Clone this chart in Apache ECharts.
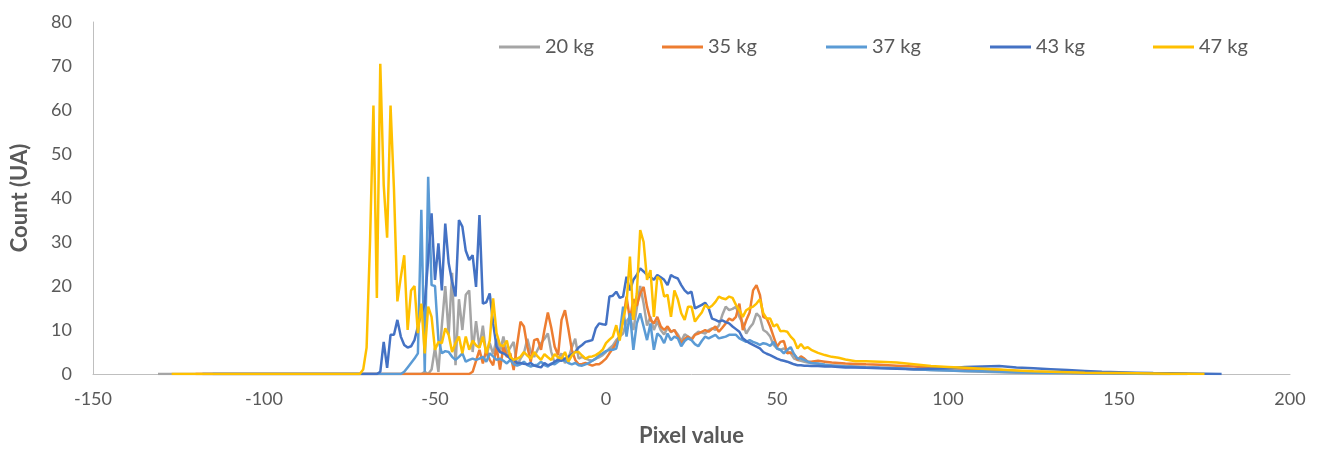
<!DOCTYPE html>
<html><head><meta charset="utf-8">
<script src="https://cdn.jsdelivr.net/npm/echarts@6/dist/echarts.min.js"></script>
<style>html,body{margin:0;padding:0;background:#fff;}#chart{width:1323px;height:455px;}</style>
</head><body><div id="chart"></div>
<script>
const seriesNames = ['20 kg', '35 kg', '37 kg', '43 kg', '47 kg'];
const seriesColors = ['#A5A5A5', '#ED7D31', '#5B9BD5', '#4472C4', '#FFC000'];
const startPixel = [-131, -120, -115, -118, -127];
const legendLeft = [494, 657, 821, 985, 1148];
const xTicks = [-150, -100, -50, 0, 50, 100, 150, 200];
const yTicks = [0, 10, 20, 30, 40, 50, 60, 70, 80];

const densePixel = [
  -72,-71,-70,-69,-68,-67,-66,-65,-64,-63,
  -62,-61,-60,-59,-58,-57,-56,-55,-54,-53,
  -52,-51,-50,-49,-48,-47,-46,-45,-44,-43,
  -42,-41,-40,-39,-38,-37,-36,-35,-34,-33,
  -32,-31,-30,-29,-28,-27,-26,-25,-24,-23,
  -22,-21,-20,-19,-18,-17,-16,-15,-14,-13,
  -12,-11,-10,-9,-8,-7,-6,-5,-4,-3,
  -2,-1,0,1,2,3,4,5,6,7,
  8,9,10,11,12,13,14,15,16,17,
  18,19,20,21,22,23,24,25,26,27,
  28,29,30,31,32,33,34,35,36,37,
  38,39,40,41,42,43,44,45,46,47,
  48,49,50,51,52,53,54,55,56,57,
  58,59,60
];
const tailPixel = [62,64,66,68,70,73,76,80,85,90,95,100,105,110,115,120,125,130,135,140,145,150,155,160,165,170,175,180];

const dense20 = [
  0,0,0,0,0,0,0,0,0,0,
  0,0,0,0,0,0,0,0,0,0.5,
  0,1,6,0.5,11,20,9,23,2,17,
  10,18,19,5,12,6,11,4,7,4.5,
  8,5,8.5,4.7,6,7.3,1.9,3.5,4.7,8,
  5,3.9,5.5,7,8,9.2,5,2.5,3.5,4.7,
  2.5,3.5,6,8,3.5,3.9,3.5,3.2,3,3.5,
  3.8,4.3,5,5.8,6.5,7.7,8.5,9.2,12,13,
  10,15,20,16,11,13,10,12,10,9,
  10.5,9.5,10,9,7.5,9,8.5,8,9,9.6,
  9.4,9.2,10,10.4,10,11,13.4,15.3,14.5,14.8,
  15.3,13,11.5,9.2,10.5,11.5,13.8,13,10,9.5,
  8.5,6.6,5.8,5.5,5.8,5.2,4.7,3.5,3.2,3,
  2.8,2.6,2.5
];
const tail20 = [2.3,2.1,2,1.9,1.8,1.7,1.6,1.5,1.3,1.1,0.9,0.8,0.6,0.5,0.4,0.3,0.25,0.2,0.15,0.1,0.1,0.05,0.05,0,0,0,null,null];

const dense35 = [
  0,0,0,0,0,0,0,0,0,0,
  0,0,0,0,0,0,0,0,0,0,
  0,0,0,0,0,0,0,0,0,0,
  0,0,0,0.5,3,5.5,2.4,5.5,3.2,2,
  6.2,1,6.2,3.9,4.7,0.9,6.6,11.9,10.8,6.2,
  2.8,7.7,8,5.5,10,14,10.5,6.2,4.3,12.3,
  14.5,10.2,5.5,3.2,2.2,2.3,2.5,2.2,1.9,2.2,
  2.2,2.8,3.5,4.7,5.8,7,8.5,12.3,17.6,12.3,
  17,15.5,18.3,19.8,15.3,12.3,11.5,13,10.8,10,
  10.8,9.6,10,8.5,7,8,8.5,7.7,8.9,9.2,
  9.6,10,9.6,10.2,10.8,9.6,10.5,11.5,12.6,12.2,
  13,16,10,12.2,14,19,20.2,18,13,12.6,
  10.8,8.5,6.2,7.3,7.5,4.7,4.9,4.5,3.2,4,
  3.5,2.8,2.8
];
const tail35 = [3,2.8,2.6,2.5,2.4,2.3,2.2,2.1,1.9,1.7,1.5,1.3,1.2,1.1,0.9,0.7,0.5,0.4,0.3,0.2,0.15,0.1,0.05,0,0,null,null,null];

const dense37 = [
  0,0,0,0,0,0,0,0,0,0,
  0,0,0,0.5,1.5,2.5,3.5,4.7,37.3,0.5,
  44.8,20.2,20,7.7,4.7,5.2,5,3.9,3.2,3.9,
  4.7,2.8,3.2,3.5,3.2,3.5,3.9,2.8,4.7,4,
  3.2,3.5,3,2.4,3.2,2.2,1.9,2.2,2.8,2,
  1.7,2,2.1,2.8,2,1.7,2.4,2.2,2.8,3.2,
  3,2.5,2.2,2.5,2,1.9,2.2,2.5,3,3.5,
  4.3,4.7,5.2,5.5,5.5,5.8,9,15.3,8.5,13.8,
  5.5,11.5,13.8,10.8,7.7,11.5,5.5,9.2,8.5,7,
  9.2,7.7,8.5,8.1,6.3,7.5,8.1,7.7,6.8,6.3,
  7.5,8.5,8.1,8.5,8.9,8.1,8.3,8.5,8.9,8.9,
  8.9,8.1,7.7,7.3,7.7,7.3,7,6.6,7,6.8,
  6.4,7.3,5.8,5.5,4.7,5.5,6.1,4.5,3.5,3.5,
  3.2,2.8,2.5
];
const tail37 = [2.4,2.1,1.9,1.8,1.7,1.6,1.5,1.4,1.3,1.1,0.9,0.8,0.7,0.6,0.5,0.4,0.3,0.25,0.2,0.15,0.1,0.1,0.05,0.05,0,0,null,null];

const dense43 = [
  0,0,0,0,0,0,0.5,7.3,1.4,8.9,
  8.9,12.3,8.5,6.6,6,6.3,7.7,10.8,13.8,16,
  26,36.5,21.4,29.7,19,34.2,25.2,21,17.6,35,
  33.5,28,25.9,27,19.8,36.1,16,16.3,18.3,11.5,
  6.2,5,4.7,4.2,3.5,3.2,2.5,2.5,2.3,2.2,
  2.5,1.9,1.7,1.5,2.5,2,2.2,2.8,3.2,3,
  3.5,3.9,4.5,5,6,6.6,7.3,7.5,7.7,10.4,
  11.5,11.3,11.2,17.6,17.8,18.7,17.3,17.6,22.1,19,
  21.4,22.5,24,23.3,22.5,22,21.4,22.5,22,21.4,
  20.2,22.5,22,21.7,20.2,19,18.3,18.7,14.9,15.3,
  15.7,16.2,15,12.6,12.3,11.9,12.2,11.8,11.5,10.8,
  10.2,9.6,8.1,7.5,7,6.6,6.2,5.8,5,4.6,
  4.3,3.9,3.5,3.2,3,2.8,2.5,2.2,2,2,
  1.9,1.9,1.8
];
const tail43 = [1.8,1.7,1.7,1.6,1.5,1.5,1.4,1.3,1.2,1.1,1.2,1.3,1.6,1.7,1.8,1.5,1.3,1.1,0.9,0.7,0.5,0.4,0.3,0.2,0.15,0.1,0.05,0];

const dense47 = [
  0,1,6,30,61,17.3,70.5,43,31,61,
  42,16.5,22,27,10,19,20,9.3,16,4.7,
  15.3,13,5.5,7.3,7,10.4,8.9,5,7,8.5,
  4.7,8.5,5.5,7.6,6.5,6,8.5,4.7,7.6,17.2,
  9.3,6.6,6.3,7.6,3.9,3.2,3.5,3.9,5,4.2,
  3.5,5,4,3.2,4.5,3.8,3.2,4.5,3.8,3.5,
  5,2.8,4.2,5,5,4.2,3.5,3.9,4,4.3,
  4.8,5.5,7,7.8,8.5,11.1,7.6,12.3,16,26.7,
  12.3,18.3,32.7,30,21.4,23.6,13,22.1,21.4,17.6,
  18,13,19,17,13.8,12.3,15.3,15.3,11.9,13,
  14,15.7,15,15.5,16.4,17.6,17.2,17,17.6,17.3,
  15.7,14.5,13,14.5,15,15.3,16,17,13.8,12.6,
  12.6,10.8,11.3,9.7,9.8,9.6,8.5,7.7,5.8,6.8,
  5.8,6.1,5.5
];
const tail47 = [4.8,4.3,3.9,3.7,3.3,2.9,2.9,2.8,2.6,2.2,1.8,1.6,1.4,1.2,1.0,0.8,0.6,0.5,0.4,0.3,0.25,0.2,0.15,0.1,0.05,0.05,0,null];

const denseAll = [dense20, dense35, dense37, dense43, dense47];
const tailAll = [tail20, tail35, tail37, tail43, tail47];

function buildData(start, dense, tail) {
  const d = [[start, 0]];
  dense.forEach((v, i) => { if (v !== null) d.push([densePixel[i], v]); });
  tail.forEach((v, i) => { if (v !== null) d.push([tailPixel[i], v]); });
  return d;
}

const FONT = 'Lato';
const TXT = '#595959';
const chart = echarts.init(document.getElementById('chart'), null, {renderer: 'canvas'});
chart.setOption({
  animation: false,
  backgroundColor: '#ffffff',
  grid: {left: 93, right: 33, top: 22, bottom: 81, containLabel: false},
  legend: seriesNames.map((n, i) => ({
    data: [n], left: legendLeft[i], top: 31, icon: 'rect', itemWidth: 41, itemHeight: 3, itemGap: 0,
    textStyle: {color: TXT, fontFamily: FONT, fontSize: 20, lineHeight: 22}
  })),
  xAxis: {
    type: 'value', min: xTicks[0], max: xTicks[xTicks.length - 1], interval: 50,
    name: 'Pixel value', nameLocation: 'middle', nameGap: 51,
    nameTextStyle: {color: TXT, fontFamily: FONT, fontSize: 22, fontWeight: 'bold'},
    axisLine: {show: true, onZero: false, lineStyle: {color: '#BFBFBF', width: 1}},
    axisTick: {show: false}, splitLine: {show: false},
    axisLabel: {color: TXT, fontFamily: FONT, fontSize: 18, margin: 16}
  },
  yAxis: {
    type: 'value', min: yTicks[0], max: yTicks[yTicks.length - 1], interval: 10,
    name: 'Count (UA)', nameLocation: 'middle', nameGap: 62, nameRotate: 90,
    nameTextStyle: {color: TXT, fontFamily: FONT, fontSize: 22, fontWeight: 'bold'},
    axisLine: {show: true, onZero: false, lineStyle: {color: '#BFBFBF', width: 1}},
    axisTick: {show: false}, splitLine: {show: false},
    axisLabel: {color: TXT, fontFamily: FONT, fontSize: 18, margin: 21}
  },
  series: seriesNames.map((n, i) => ({
    name: n, type: 'line', showSymbol: false, symbol: 'none',
    data: buildData(startPixel[i], denseAll[i], tailAll[i]),
    color: seriesColors[i],
    lineStyle: {color: seriesColors[i], width: 2.5},
    itemStyle: {color: seriesColors[i]},
    z: 2 + i
  }))
});
</script></body></html>
